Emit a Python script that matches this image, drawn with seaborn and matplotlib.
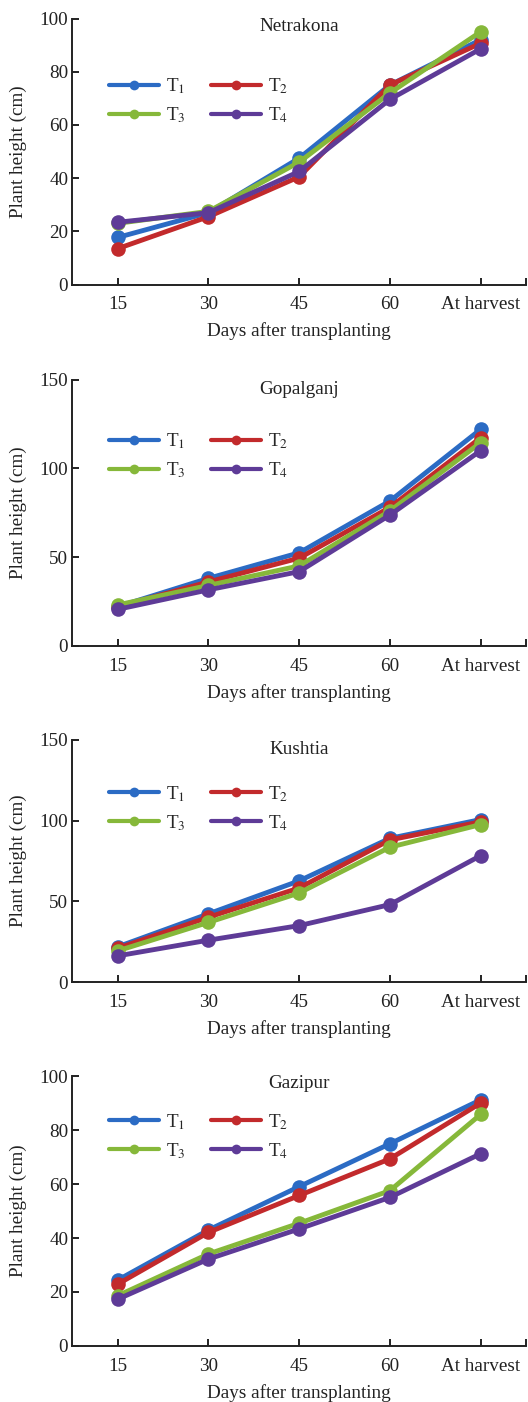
import matplotlib
matplotlib.use("Agg")
import matplotlib.pyplot as plt
import seaborn as sns
import pandas as pd
from matplotlib.lines import Line2D

sns.set_theme(style="ticks")
plt.rcParams['font.family'] = ['Liberation Serif', 'DejaVu Serif']
plt.rcParams['mathtext.fontset'] = 'stix'

# ---- data ----
stages = ["15", "30", "45", "60", "At harvest"]
treatments = ["T1", "T2", "T3", "T4"]
treat_labels = ["T$_1$", "T$_2$", "T$_3$", "T$_4$"]
locations = ["Netrakona", "Gopalganj", "Kushtia", "Gazipur"]

netrakona = {
    "T1": [17.7, 27.0, 47.5, 75.0, 92.0],
    "T2": [13.5, 25.5, 40.5, 75.0, 90.7],
    "T3": [23.0, 27.5, 46.0, 72.0, 95.0],
    "T4": [23.4, 27.0, 42.5, 69.6, 88.6],
}
gopalganj = {
    "T1": [22.0, 38.0, 52.4, 81.6, 122.0],
    "T2": [22.0, 36.0, 49.4, 78.0, 117.3],
    "T3": [23.0, 34.0, 45.0, 76.0, 114.5],
    "T4": [20.5, 31.5, 41.8, 73.7, 110.0],
}
kushtia = {
    "T1": [21.9, 42.3, 62.7, 89.0, 100.6],
    "T2": [21.0, 40.2, 58.3, 88.0, 99.2],
    "T3": [19.4, 37.0, 55.2, 83.5, 97.5],
    "T4": [16.3, 26.0, 35.0, 48.0, 78.3],
}
gazipur = {
    "T1": [24.4, 43.0, 59.1, 75.0, 91.3],
    "T2": [22.9, 42.1, 55.8, 69.4, 90.1],
    "T3": [18.6, 34.1, 45.5, 57.6, 85.9],
    "T4": [17.3, 32.2, 43.4, 55.1, 71.3],
}
panel_data = [netrakona, gopalganj, kushtia, gazipur]
y_max = [100, 150, 150, 100]
y_step = [20, 50, 50, 20]

colors = ["#2b6bc4", "#c22a2c", "#86b83a", "#5e3b97"]

# ---- layout (pixels) ----
W, H = 528, 1402
ax_boxes = [
    (72.4, 18.5, 284.5),
    (72.4, 379.7, 645.7),
    (72.4, 739.7, 982.2),
    (72.4, 1076.4, 1345.8),
]
legend_y = [0.69, 0.714, 0.717, 0.777]
title_off = [7.8, 10.1, 10.1, 7.4]  # px below top

fs = 13.8
fig = plt.figure(figsize=(W / 100, H / 100), dpi=100)

for i, (loc, data) in enumerate(zip(locations, panel_data)):
    left, top, bottom = ax_boxes[i]
    ax = fig.add_axes([left / W, 1 - bottom / H, 453.6 / W, (bottom - top) / H])
    df = pd.DataFrame(
        [(stages[k], t, data[t][k]) for t in treatments for k in range(len(stages))],
        columns=["stage", "treatment", "height"],
    )
    sns.pointplot(
        data=df, x="stage", y="height", hue="treatment", order=stages,
        hue_order=treatments, palette=colors, errorbar=None, markers="o",
        linestyles="-", dodge=False, ax=ax, legend=False,
    )
    for ln in ax.lines:
        ln.set_linewidth(3.5)
        ln.set_markersize(10.5)
        ln.set_markeredgewidth(0)
    ax.set_xlim(-0.5, 4.5)
    ax.set_ylim(0, y_max[i])
    ax.set_yticks(range(0, y_max[i] + 1, y_step[i]))
    ax.set_xticks(range(len(stages)))
    ax.set_xticks([4.5], minor=True)
    ax.set_xticklabels(stages)
    for s in ["top", "right"]:
        ax.spines[s].set_visible(False)
    for s in ["left", "bottom"]:
        ax.spines[s].set_linewidth(1.4)
        ax.spines[s].set_color("#222222")
    ax.tick_params(axis="both", which="both", direction="in", length=5, width=1.4,
                   colors="#222222", labelsize=fs, labelcolor="#222222")
    ax.tick_params(axis="x", pad=8.6)
    ax.tick_params(axis="y", pad=3)
    ax.set_xlabel("Days after transplanting", fontsize=fs, color="#222222", labelpad=6.6)
    ax.set_ylabel("Plant height (cm)", fontsize=fs, color="#222222", va="center")
    ax.yaxis.set_label_coords(-0.12, 0.5)
    h_px = bottom - top
    ax.text(0.5, 1 - title_off[i] / h_px, loc, transform=ax.transAxes,
            ha="center", va="center", fontsize=fs, color="#222222")
    handles = [Line2D([], [], color=c, lw=3.0, marker="o", markersize=7,
                      markeredgewidth=0) for c in colors]
    order = [0, 2, 1, 3]  # row-wise T1 T2 / T3 T4
    ax.legend([handles[k] for k in order], [treat_labels[k] for k in order],
              ncol=2, loc="center left",
              bbox_to_anchor=(0.081, legend_y[i]), frameon=False,
              fontsize=fs, handlelength=2.6, handletextpad=0.38,
              columnspacing=1.3, labelspacing=0.48, borderpad=0, borderaxespad=0)
    ax.set_facecolor("white")

fig.savefig("out.png", dpi=100, facecolor="white")
